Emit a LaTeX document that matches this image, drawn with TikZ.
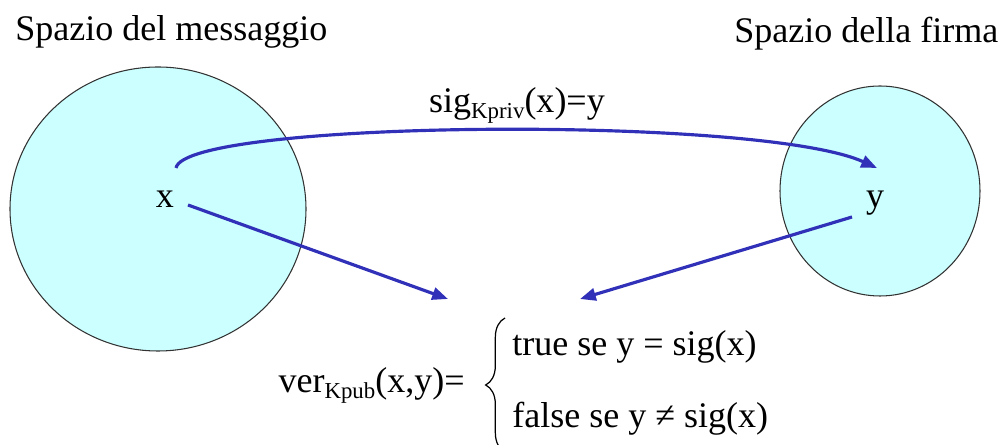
\documentclass[tikz,border=0pt]{standalone}
\usepackage{fontspec}
\setmainfont{Liberation Serif}
\usetikzlibrary{arrows.meta,decorations.pathreplacing}
\definecolor{spacefill}{RGB}{204,255,255}
\definecolor{spaceline}{RGB}{50,50,50}
\definecolor{arrowblue}{RGB}{48,48,184}
\newcommand{\lowsub}[1]{\raisebox{-0.32ex}{\fontsize{13}{13}\selectfont #1}}
\tikzset{
  spaceshape/.style={draw=spaceline,fill=spacefill,line width=0.6pt},
  lbl/.style={font=\fontsize{20.5}{24}\selectfont,inner sep=0pt},
  maparrow/.style={draw=arrowblue,line width=1.8pt,-{Triangle[length=9pt,width=7pt]}},
}
\begin{document}
\begin{tikzpicture}[x=0.02cm,y=-0.02cm]
\useasboundingbox (0,0) rectangle (1002,445);
% spaces
\draw[spaceshape] (158,209) ellipse [x radius=148,y radius=142];
\draw[spaceshape] (880,191) ellipse [x radius=100,y radius=105];
% titles
\node[lbl,anchor=base west] (tmsg) at (15,41) {Spazio del messaggio};
\node[lbl,anchor=base west] (tsig) at (734,43) {Spazio della firma};
% points
\node[lbl,anchor=base] (x) at (165,208) {x};
\node[lbl,anchor=base] (y) at (875,208) {y};
% mapping label
\node[lbl,anchor=base] (siglbl) at (517,113) {sig\lowsub{Kpriv}(x)=y};
% verification
\node[lbl,anchor=base east] (ver) at (465,393) {ver\lowsub{Kpub}(x,y)=};
\node[lbl,anchor=base west] (tr) at (512,356) {true se y = sig(x)};
\node[lbl,anchor=base west] (fa) at (512,428) {false se y ≠ sig(x)};
\coordinate (bb) at (505,452);
\coordinate (bt) at (505,318);
\draw[line width=0.7pt,decorate,decoration={brace,amplitude=11pt}] (bb) -- (bt);
% arrows
\coordinate (cs) at (176,168);
\coordinate (ce) at (877,168);
\coordinate (xs) at (188,205);
\coordinate (xt) at (448,299);
\coordinate (ys) at (852,217);
\coordinate (yt) at (580,299);
\draw[maparrow] (cs) .. controls (185,120) and (760,115) .. (ce);
\draw[maparrow] (xs) -- (xt);
\draw[maparrow] (ys) -- (yt);
\end{tikzpicture}
\end{document}
